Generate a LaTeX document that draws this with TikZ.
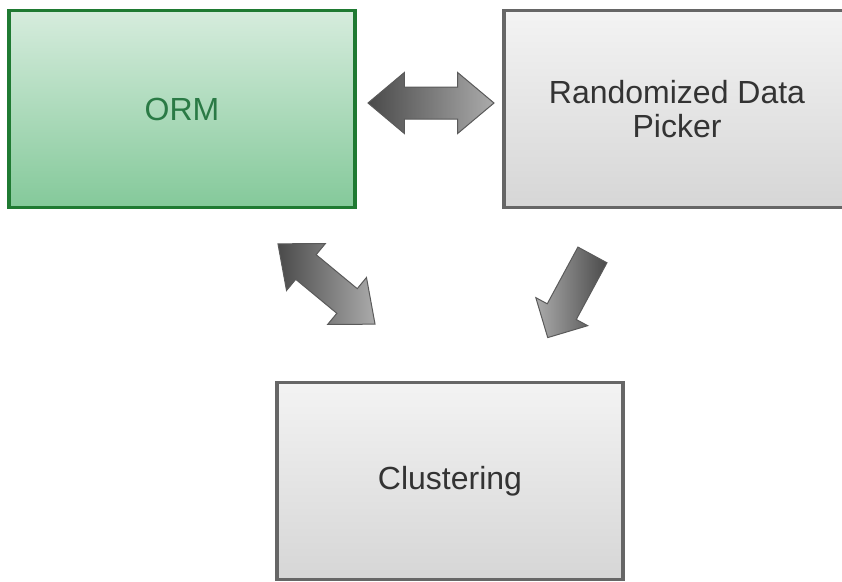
\documentclass[tikz,border=0pt]{standalone}
\usepackage{fontspec}
\setmainfont{Liberation Sans}
\usetikzlibrary{shapes.arrows}

\definecolor{ormborder}{HTML}{1F7A32}
\definecolor{ormtop}{HTML}{D6ECDD}
\definecolor{ormbottom}{HTML}{84C99A}
\definecolor{ormtext}{HTML}{2A7A45}
\definecolor{boxborder}{HTML}{666666}
\definecolor{boxtop}{HTML}{F3F3F3}
\definecolor{boxbottom}{HTML}{D6D6D6}
\definecolor{arrowdark}{HTML}{4A4A4A}
\definecolor{arrowlight}{HTML}{ABABAB}
\definecolor{arrowedge}{HTML}{5A5A5A}

\tikzset{
  block/.style={rectangle, line width=3.5pt, minimum width=346pt, minimum height=197pt,
    inner sep=0pt, align=center, font=\fontsize{32}{34}\selectfont},
  ormblock/.style={block, draw=ormborder, top color=ormtop, bottom color=ormbottom, text=ormtext},
  grayblock/.style={block, draw=boxborder, top color=boxtop, bottom color=boxbottom, text=black!80},
  twoway/.style={double arrow, draw=arrowedge, line width=1pt, inner xsep=0pt, inner ysep=15.5pt,
    minimum height=126pt, double arrow head extend=14.5pt,
    double arrow tip angle=80, left color=arrowdark, right color=arrowlight},
  oneway/.style={single arrow, draw=arrowedge, line width=1pt, inner xsep=0pt, inner ysep=16pt,
    minimum height=94pt, single arrow head extend=13pt,
    single arrow tip angle=90, left color=arrowlight, right color=arrowdark}
}

\begin{document}
\begin{tikzpicture}[x=1pt, y=-1pt]
  \useasboundingbox (0,0) rectangle (842,581);

  % boxes
  \node[ormblock]  (orm)     at (182,109) {ORM};
  \node[grayblock] (picker)  at (677,109) {Randomized Data\\Picker};
  \node[grayblock] (cluster) at (450,481) {Clustering};

  % block arrows between the boxes
  \node[twoway] (ormpicker) at (431,103) {};
  \node[twoway, rotate=-39.6] (ormcluster) at (326.5,284) {};
  \node[oneway, rotate=241.6] (pickercluster) at (574,289) {};
\end{tikzpicture}
\end{document}
